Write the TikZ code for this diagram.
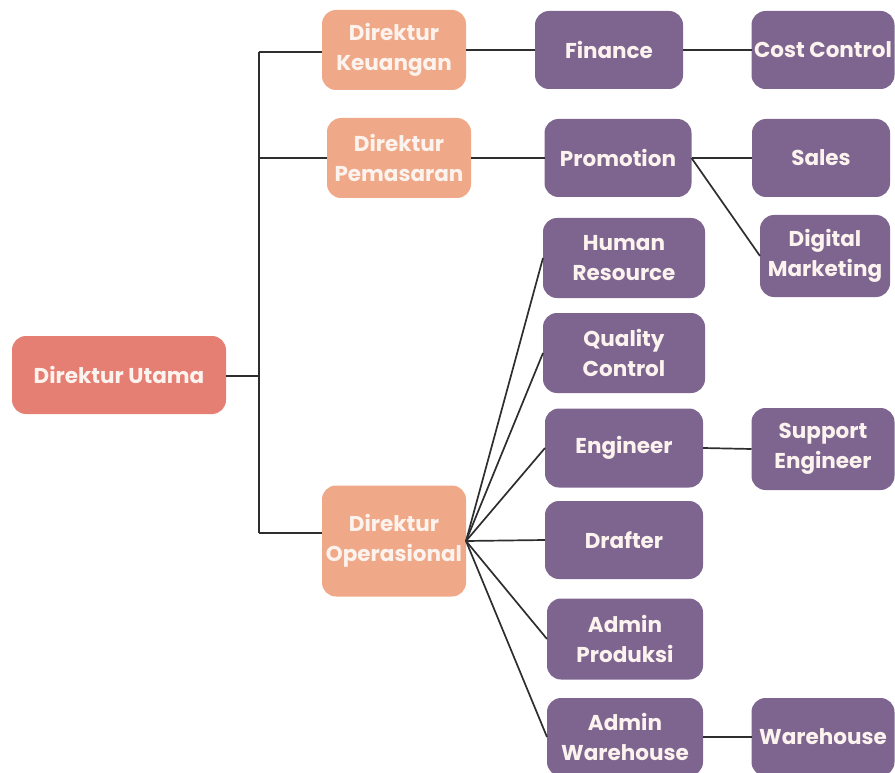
\documentclass[tikz,border=0pt]{standalone}
\usepackage{fontspec}
\setmainfont{Poppins}
\usepackage{tikz}
\definecolor{utama}{HTML}{E57E73}
\definecolor{direk}{HTML}{F0A988}
\definecolor{staf}{HTML}{7E6590}
\definecolor{tulis}{HTML}{FDF3EE}
\definecolor{garis}{HTML}{2E2E2E}

\begin{document}
\begin{tikzpicture}[
x=1pt, y=-1pt,
    X/.style = {rectangle, rounded corners=14pt, align=center,% styles of boxes
                text=tulis, font=\fontsize{21.5}{30}\selectfont\bfseries,
                inner sep=1pt, outer sep=0pt},
    U/.style = {X, fill=utama, minimum width=214pt, minimum height=78pt},
    D/.style = {X, fill=direk, minimum width=144pt, minimum height=80pt},
    S/.style = {X, fill=staf},
    L/.style = {draw=garis, line width=1.7pt},
                        ]
\useasboundingbox (0,0) rectangle (895,773);
% top
\node[U] (du) at (119,375) {Direktur Utama};
% direktur
\node[D] (dk) at (394,50)  {Direktur\\Keuangan};
\node[D] (dp) at (399,158) {Direktur\\Pemasaran};
\node[D, minimum height=111pt] (do) at (394,541) {Direktur\\Operasional};
% staff: name/x/y/width/height/text
\foreach \n/\x/\y/\w/\h/\t in {
    fin/609/50/148/78/{Finance},
    cc/823/50/143/78/{Cost Control},
    pro/618/158/147/78/{Promotion},
    sal/821/158/138/78/{Sales},
    dm/825/256/130/82/{Digital\\Marketing},
    hr/624/258/162/80/{Human\\Resource},
    qc/624/353/162/80/{Quality\\Control},
    eng/624/448/158/79/{Engineer},
    se/823/449/143/82/{Support\\Engineer},
    dr/624/540/158/78/{Drafter},
    ap/625/639/156/81/{Admin\\Produksi},
    aw/625/737/156/78/{Admin\\Warehouse},
    wh/823/737/143/78/{Warehouse}}% <-- boxes
    \node[S, minimum width=\w pt, minimum height=\h pt] (\n) at (\x,\y) {\t};
% bus
\coordinate (b1) at (259,52);
\coordinate (b2) at (259,158);
\coordinate (b3) at (259,376);
\coordinate (b4) at (259,533);
\draw[L] (du.east |- b3) -- (b3);
\draw[L] (b1) -- (b4);
\draw[L] (b1) -- (b1 -| dk.west);
\draw[L] (b2) -- (b2 -| dp.west);
\draw[L] (b4) -- (b4 -| do.west);
% links
\draw[L] (dk.east) -- (fin.west);
\draw[L] (fin.east) -- (cc.west);
\draw[L] (dp.east) -- (pro.west);
\draw[L] (pro.east) -- (sal.west);
\draw[L] (pro.east) -- (dm.west);
\foreach \n in {hr,qc,eng,dr,ap,aw}
    \draw[L] (do.east) -- (\n.west);
\draw[L] (eng.east) -- (se.west);
\draw[L] (aw.east) -- (wh.west);
\end{tikzpicture}
\end{document}
